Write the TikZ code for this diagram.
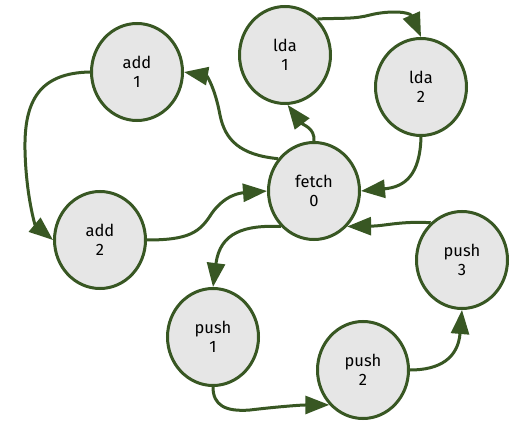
\documentclass[tikz,border=0pt]{standalone}
\usepackage{fontspec}
\setmainfont{Fira Sans}
\usetikzlibrary{shapes.geometric,arrows.meta}
\definecolor{edgegreen}{HTML}{385723}
\definecolor{nodegray}{HTML}{E6E6E6}
\tikzset{
  state/.style={ellipse, draw=edgegreen, fill=nodegray, line width=3pt,
    minimum width=91pt, minimum height=97pt, inner sep=0pt, align=center,
    font=\fontsize{16.5}{19}\selectfont},
  conn/.style={draw=edgegreen, line width=3pt,
    -{Triangle[length=24pt,width=18pt]}}
}
\begin{document}
\begin{tikzpicture}[x=1pt,y=-1pt]
\useasboundingbox (0,0) rectangle (512,425);
\node[state] (add1) at (137,72) {add\\1};
\node[state] (lda1) at (285,55) {lda\\1};
\node[state] (lda2) at (421,87) {lda\\2};
\node[state] (fetch) at (314,191) {fetch\\0};
\node[state] (add2) at (100,240) {add\\2};
\node[state] (push3) at (462,260) {push\\3};
\node[state] (push1) at (213,337) {push\\1};
\node[state] (push2) at (363,370) {push\\2};

\draw[conn] (fetch.138) .. controls (240,155) and (225,140) .. (220,115) .. controls (215,88) and (207,76) .. (add1.0);
\draw[conn] (fetch.north) .. controls (315,128) and (303,125) .. (lda1.-87);
\draw[conn] (lda1.48) .. controls (345,18) and (355,19) .. (370,15) .. controls (390,10) and (410,12) .. (lda2.north);
\draw[conn] (lda2.south) .. controls (420,175) and (405,187) .. (fetch.0);
\draw[conn] (add1.180) .. controls (40,73) and (24,100) .. (25,150) .. controls (26,195) and (35,225) .. (add2.180);
\draw[conn] (add2.0) .. controls (190,240) and (200,232) .. (212,213) .. controls (225,195) and (240,193) .. (fetch.180);
\draw[conn] (fetch.227) .. controls (245,225) and (220,232) .. (push1.north);
\draw[conn] (push1.south) .. controls (213,405) and (225,412) .. (250,410) .. controls (275,407) and (300,405) .. (push2.226);
\draw[conn] (push2.0) .. controls (440,370) and (458,358) .. (push3.south);
\draw[conn] (push3.130) .. controls (400,221) and (385,226) .. (fetch.-47);
\end{tikzpicture}
\end{document}
